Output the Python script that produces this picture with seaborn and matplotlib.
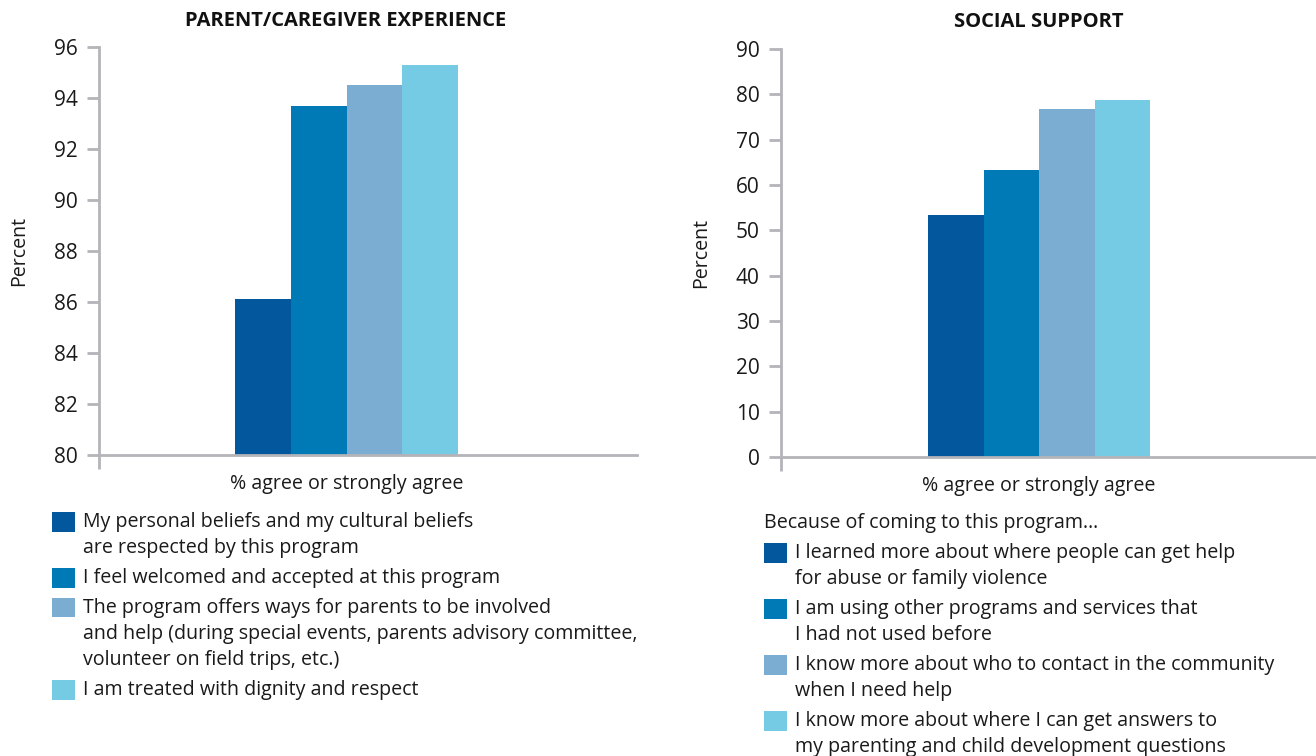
import matplotlib
matplotlib.use("Agg")
import matplotlib.pyplot as plt
import seaborn as sns
import pandas as pd
from matplotlib.patches import Patch

# ---- data ----
category = ["% agree or strongly agree"]
parent_items = [
    "My personal beliefs and my cultural beliefs\nare respected by this program",
    "I feel welcomed and accepted at this program",
    "The program offers ways for parents to be involved\nand help (during special events, parents advisory committee,\nvolunteer on field trips, etc.)",
    "I am treated with dignity and respect",
]
parent_values = [86.1, 93.7, 94.5, 95.3]
parent_ticks = [80, 82, 84, 86, 88, 90, 92, 94, 96]

social_items = [
    "I learned more about where people can get help\nfor abuse or family violence",
    "I am using other programs and services that\nI had not used before",
    "I know more about who to contact in the community\nwhen I need help",
    "I know more about where I can get answers to\nmy parenting and child development questions",
]
social_values = [53.4, 63.2, 76.8, 78.8]
social_ticks = [0, 10, 20, 30, 40, 50, 60, 70, 80, 90]

colors = ["#03589d", "#0079b7", "#7badd3", "#76cbe4"]

sns.set_style("white")
plt.rcParams["font.family"] = ["Open Sans", "DejaVu Sans"]

W, H = 1316, 756
fig = plt.figure(figsize=(W / 100, H / 100), dpi=100)

GRAY = "#b4b4b9"
TXT = "#1a1a1a"
FS = 14.1


def px_axes(x0, y0, x1, y1):
    return fig.add_axes([x0 / W, 1 - y1 / H, (x1 - x0) / W, (y1 - y0) / H])


def draw(ax, items, values, ticks, xlim):
    df = pd.DataFrame({"cat": category * len(items), "item": items, "value": values})
    sns.barplot(data=df, x="cat", y="value", hue="item", hue_order=items,
                palette=colors, width=0.8, saturation=1, ax=ax, legend=False,
                edgecolor="none", linewidth=0)
    ax.set_ylim(ticks[0], ticks[-1])
    ax.set_xlim(*xlim)
    ax.set_yticks(ticks)
    ax.set_yticklabels([str(t) for t in ticks])
    ax.tick_params(axis="y", direction="out", length=9, width=2, color=GRAY,
                   labelsize=15, labelcolor=TXT, pad=6.5, left=True)
    ax.set_xticks([0])
    ax.set_xticklabels(category)
    ax.tick_params(axis="x", length=0, labelsize=FS, labelcolor=TXT, pad=14)
    ax.set_xticks([xlim[0]], minor=True)
    ax.tick_params(axis="x", which="minor", direction="out", length=10, width=2,
                   color=GRAY, bottom=True)
    ax.set_xlabel("")
    ax.set_ylabel("Percent", fontsize=FS, color=TXT)
    for s in ["top", "right"]:
        ax.spines[s].set_visible(False)
    for s in ["left", "bottom"]:
        ax.spines[s].set_color(GRAY)
        ax.spines[s].set_linewidth(2)


ax1 = px_axes(99, 47, 637, 455)
draw(ax1, parent_items, parent_values, parent_ticks, (-0.888, 1.042))
ax1.yaxis.set_label_coords(-0.129, 0.5)

ax2 = px_axes(781, 49, 1316, 457)
draw(ax2, social_items, social_values, social_ticks, (-0.93, 0.998))
ax2.yaxis.set_label_coords(-0.130, 0.5)

fig.text(346 / W, 1 - 21 / H, "PARENT/CAREGIVER EXPERIENCE", ha="center", va="center",
         fontsize=14.5, fontweight="bold", color="#111111")
fig.text(1039 / W, 1 - 22 / H, "SOCIAL SUPPORT", ha="center", va="center",
         fontsize=14.5, fontweight="bold", color="#111111")


def make_legend(items, x, y):
    handles = [Patch(facecolor=c, edgecolor="none") for c in colors]
    leg = fig.legend(handles, items, loc="upper left", bbox_to_anchor=(x / W, 1 - y / H),
                     frameon=False, fontsize=FS, borderpad=0, borderaxespad=0,
                     handlelength=1.17, handleheight=1.17, handletextpad=0.4,
                     labelspacing=0.5)
    for t in leg.get_texts():
        t.set_linespacing(1.41)
        t.set_color(TXT)
    for col in leg._legend_handle_box.get_children():
        for item in col.get_children():
            item.align = "top"
    return leg


make_legend(parent_items, 52, 512)
fig.text(764 / W, 1 - 523 / H, "Because of coming to this program…", ha="left", va="center",
         fontsize=FS, color=TXT)
make_legend(social_items, 764, 543)

fig.savefig("out.png", dpi=100)
